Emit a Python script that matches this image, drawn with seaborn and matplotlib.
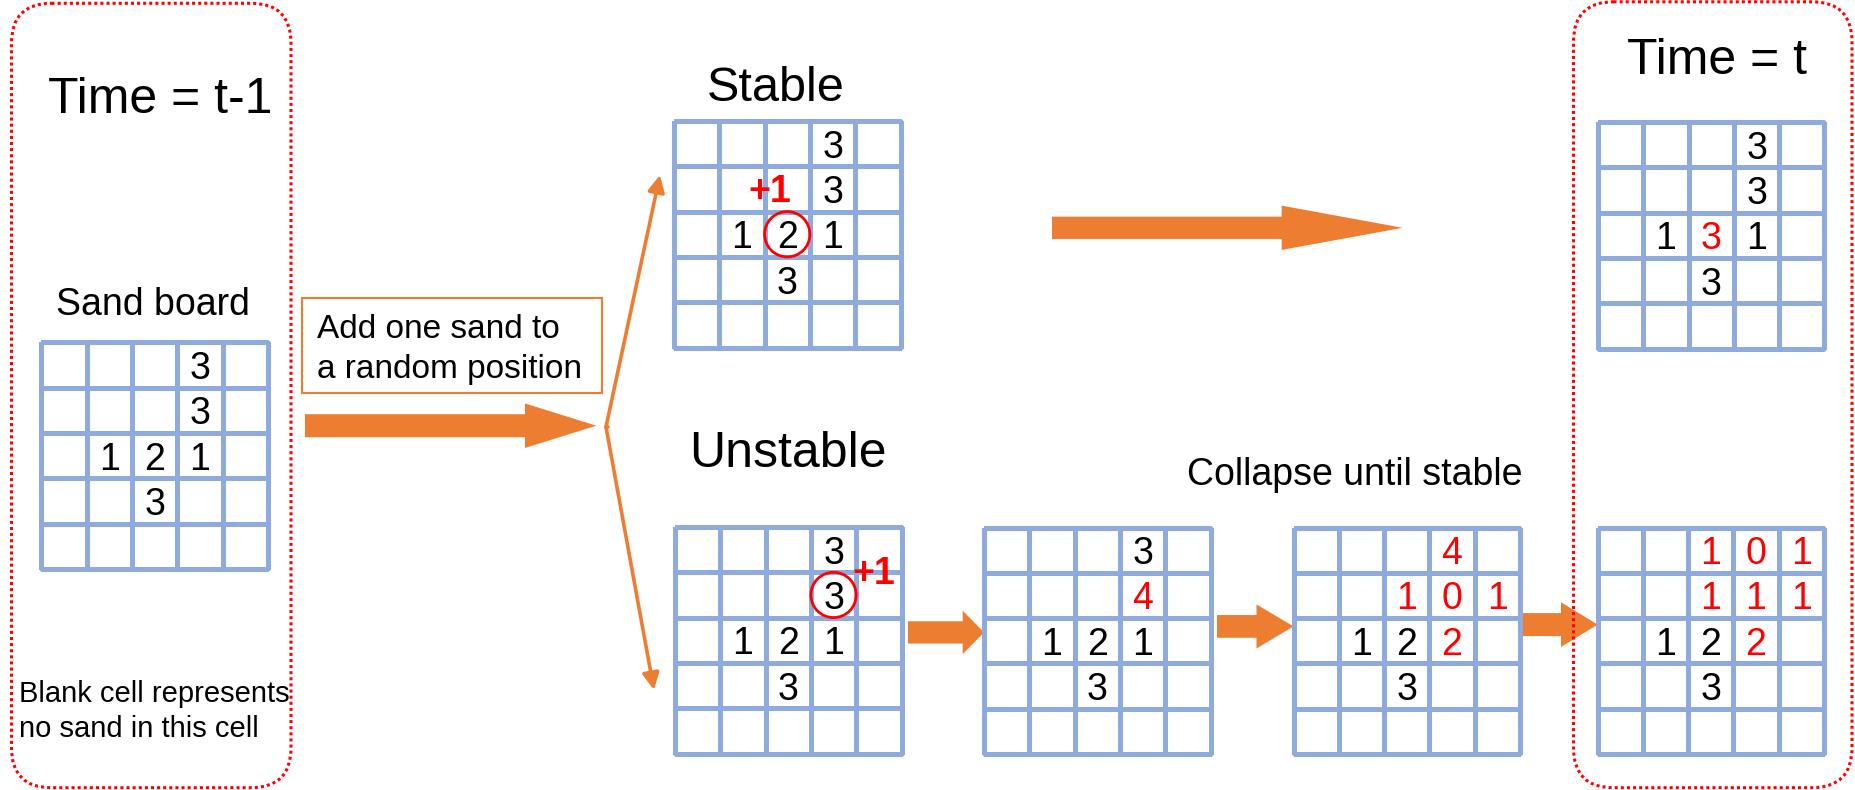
import numpy as np
import pandas as pd
import matplotlib
matplotlib.use("Agg")
import matplotlib.pyplot as plt
import seaborn as sns
from matplotlib.colors import ListedColormap
from matplotlib.patches import FancyBboxPatch, Rectangle, FancyArrow, Circle

# ---------------- data ----------------
row_labels = ["r0", "r1", "r2", "r3", "r4"]
col_labels = ["c0", "c1", "c2", "c3", "c4"]

board_t_minus_1 = [["", "", "", "3", ""],
                   ["", "", "", "3", ""],
                   ["", "1", "2", "1", ""],
                   ["", "", "3", "", ""],
                   ["", "", "", "", ""]]
red_t_minus_1 = [[0] * 5 for _ in range(5)]

board_stable = [["", "", "", "3", ""],
                ["", "", "", "3", ""],
                ["", "1", "2", "1", ""],
                ["", "", "3", "", ""],
                ["", "", "", "", ""]]
red_stable = [[0] * 5 for _ in range(5)]

board_stable_t = [["", "", "", "3", ""],
                  ["", "", "", "3", ""],
                  ["", "1", "3", "1", ""],
                  ["", "", "3", "", ""],
                  ["", "", "", "", ""]]
red_stable_t = [[0, 0, 0, 0, 0],
                [0, 0, 0, 0, 0],
                [0, 0, 1, 0, 0],
                [0, 0, 0, 0, 0],
                [0, 0, 0, 0, 0]]

board_unstable = [["", "", "", "3", ""],
                  ["", "", "", "3", ""],
                  ["", "1", "2", "1", ""],
                  ["", "", "3", "", ""],
                  ["", "", "", "", ""]]
red_unstable = [[0] * 5 for _ in range(5)]

board_collapse_1 = [["", "", "", "3", ""],
                    ["", "", "", "4", ""],
                    ["", "1", "2", "1", ""],
                    ["", "", "3", "", ""],
                    ["", "", "", "", ""]]
red_collapse_1 = [[0, 0, 0, 0, 0],
                  [0, 0, 0, 1, 0],
                  [0, 0, 0, 0, 0],
                  [0, 0, 0, 0, 0],
                  [0, 0, 0, 0, 0]]

board_collapse_2 = [["", "", "", "4", ""],
                    ["", "", "1", "0", "1"],
                    ["", "1", "2", "2", ""],
                    ["", "", "3", "", ""],
                    ["", "", "", "", ""]]
red_collapse_2 = [[0, 0, 0, 1, 0],
                  [0, 0, 1, 1, 1],
                  [0, 0, 0, 1, 0],
                  [0, 0, 0, 0, 0],
                  [0, 0, 0, 0, 0]]

board_final = [["", "", "1", "0", "1"],
               ["", "", "1", "1", "1"],
               ["", "1", "2", "2", ""],
               ["", "", "3", "", ""],
               ["", "", "", "", ""]]
red_final = [[0, 0, 1, 1, 1],
             [0, 0, 1, 1, 1],
             [0, 0, 0, 1, 0],
             [0, 0, 0, 0, 0],
             [0, 0, 0, 0, 0]]

# ---------------- style ----------------
sns.set_style("white")
plt.rcParams["font.family"] = ["Liberation Sans", "DejaVu Sans"]
plt.rcParams["text.color"] = "black"

W, H = 1855, 790
BLUE = "#8FAADC"
ORANGE = "#ED7D31"
RED = "#FF0000"
GRID = 226.5

fig = plt.figure(figsize=(W / 100, H / 100), dpi=100)
ax = fig.add_axes([0, 0, 1, 1])
ax.set_xlim(0, W)
ax.set_ylim(H, 0)
ax.axis("off")


def draw_grid(vals, red, x0, y0, size=GRID):
    gax = fig.add_axes([x0 / W, 1 - (y0 + size) / H, size / W, size / H])
    df = pd.DataFrame(np.zeros((5, 5)), index=row_labels, columns=col_labels)
    annot = np.array(vals, dtype=object)
    sns.heatmap(df, ax=gax, cmap=ListedColormap(["white"]), vmin=0, vmax=1,
                cbar=False, linewidths=2.3, linecolor=BLUE,
                annot=annot, fmt="",
                annot_kws=dict(fontsize=27, va="center_baseline"),
                xticklabels=False, yticklabels=False)
    gax.collections[0].set_clip_on(False)
    for t in gax.texts:
        x, y = t.get_position()
        i, j = int(y), int(x)
        t.set_color(RED if red[i][j] else "black")
    return gax


g_prev = draw_grid(board_t_minus_1, red_t_minus_1, 41.3, 342.3)
g_stable = draw_grid(board_stable, red_stable, 674, 121)
g_stable_t = draw_grid(board_stable_t, red_stable_t, 1598, 122)
g_unstable = draw_grid(board_unstable, red_unstable, 675, 527)
g_c1 = draw_grid(board_collapse_1, red_collapse_1, 984, 527.5)
g_c2 = draw_grid(board_collapse_2, red_collapse_2, 1293.5, 527.5)
g_final = draw_grid(board_final, red_final, 1597.5, 527.5)

# circles and +1 marks
g_stable.add_patch(Circle((2.5, 2.5), 0.5, fill=False, ec=RED, lw=2.0, clip_on=False, zorder=5))
g_stable.text(2.11, 1.47, "+1", color=RED, fontsize=27, fontweight="bold",
              ha="center", va="center_baseline", clip_on=False, zorder=6)
g_unstable.add_patch(Circle((3.5, 1.5), 0.5, fill=False, ec=RED, lw=2.0, clip_on=False, zorder=5))
g_unstable.text(4.38, 0.95, "+1", color=RED, fontsize=27, fontweight="bold",
                ha="center", va="center_baseline", clip_on=False, zorder=6)

# dotted rounded boxes
for (bx0, by0, bx1, by1) in [(11.5, 3.3, 291, 787.7), (1573.5, 1.8, 1852, 787.7)]:
    ax.add_patch(FancyBboxPatch((bx0, by0), bx1 - bx0, by1 - by0,
                                boxstyle="round,pad=0,rounding_size=40",
                                fill=False, ec=RED, lw=2.2, linestyle=(0, (1, 1)),
                                zorder=5))

# text box
ax.add_patch(Rectangle((302, 298), 300, 95, fill=False, ec=ORANGE, lw=1.5))

# block arrows (x_start, x_tip, y, shaft, head_w, head_len)
for (xs, xt, yc, sw, hw, hl) in [(305, 596.4, 425.7, 23, 44.5, 71.4),
                                 (1052, 1402.7, 227.8, 22.3, 44.3, 121),
                                 (908, 984, 632.4, 22.3, 43.5, 21.3),
                                 (1217, 1293.5, 626.4, 22.7, 44, 37),
                                 (1521, 1597.7, 624.6, 23, 44.7, 36.7)]:
    ax.add_patch(FancyArrow(xs, yc, xt - xs, 0, width=sw, head_width=hw,
                            head_length=hl, length_includes_head=True,
                            color=ORANGE, lw=0, zorder=2))

# branch arrows
vx, vy = 606, 427
for (tx, ty) in [(660, 175), (654, 690)]:
    ax.annotate("", xy=(tx, ty), xytext=(vx, vy),
                arrowprops=dict(arrowstyle="-|>,head_length=1.0,head_width=0.5",
                                color=ORANGE, lw=2.6, shrinkA=0, shrinkB=0))
ax.plot([vx, vx + 2], [vy, vy], color=ORANGE, lw=2.6, solid_capstyle="round")

# texts
ax.text(160.3, 113, "Time = t-1", fontsize=36, ha="center", va="baseline")
ax.text(153.3, 315, "Sand board", fontsize=27, ha="center", va="baseline")
ax.text(19, 702, "Blank cell represents", fontsize=21, ha="left", va="baseline")
ax.text(19, 737, "no sand in this cell", fontsize=21, ha="left", va="baseline")
ax.text(317, 338, "Add one sand to", fontsize=24, ha="left", va="baseline")
ax.text(317, 378, "a random position", fontsize=24, ha="left", va="baseline")
ax.text(776, 101, "Stable", fontsize=35, ha="center", va="baseline")
ax.text(787.5, 467.3, "Unstable", fontsize=36, ha="center", va="baseline")
ax.text(1354.4, 485, "Collapse until stable", fontsize=27, ha="center", va="baseline")
ax.text(1717, 74, "Time = t", fontsize=36, ha="center", va="baseline")

fig.savefig("out.png", dpi=100)
